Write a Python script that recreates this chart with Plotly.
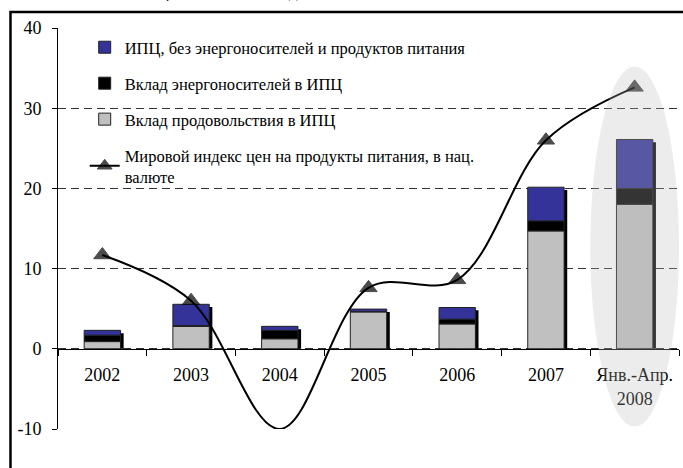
import numpy as np
import plotly.graph_objects as go

# categories (years) and stacked contributions to CPI, p.p.
years = ["2002", "2003", "2004", "2005", "2006", "2007", "Янв.-Апр.<br>2008"]
food = [0.9, 2.8, 1.25, 4.6, 3.1, 14.7, 18.0]
energy = [0.8, 0.1, 1.05, 0.05, 0.6, 1.25, 2.0]
other = [0.6, 2.65, 0.5, 0.3, 1.45, 4.2, 6.1]
world_food_index = [11.7, 6.0, -10.0, 7.6, 8.6, 26.0, 32.6]
yticks = [-10, 0, 10, 20, 30, 40]

food_a = np.array(food)
energy_a = np.array(energy)
other_a = np.array(other)
total = food_a + energy_a + other_a

FONT = "Liberation Serif"
BW = 0.41

fig = go.Figure()

# shadow behind each bar (black strip on the right)
fig.add_trace(go.Bar(
    x=years, y=total - 0.35, base=0, width=BW, offset=-BW / 2 + 0.035,
    marker=dict(color="black", line=dict(width=0)),
    showlegend=False, hoverinfo="skip"
))

fig.add_trace(go.Bar(
    x=years, y=food, base=0, width=BW, name="Вклад продовольствия в ИПЦ",
    marker=dict(color="#c0c0c0", line=dict(color="#222", width=1)),
    legendrank=3, legendgroup="c"
))
fig.add_trace(go.Bar(
    x=years, y=energy, base=food_a, width=BW, name="Вклад энергоносителей в ИПЦ",
    marker=dict(color="#000000", line=dict(color="#222", width=1)),
    legendrank=2, legendgroup="b"
))
fig.add_trace(go.Bar(
    x=years, y=other, base=food_a + energy_a, width=BW,
    name="ИПЦ, без энергоносителей и продуктов питания",
    marker=dict(color="#333399", line=dict(color="#222", width=1)),
    legendrank=1, legendgroup="a"
))

# world food price index, smoothed line
fig.add_trace(go.Scatter(
    x=years, y=world_food_index, mode="lines+markers",
    name="Мировой индекс цен на продукты питания, в нац.<br>валюте",
    line=dict(color="black", width=2, shape="spline", smoothing=1.0),
    marker=dict(symbol="triangle-up", size=[15, 15, 0, 15, 15, 15, 15], color="black",
                line=dict(color="black", width=1)),
    legendrank=4, legendgroup="d"
))

fig.update_layout(
    width=683, height=468,
    margin=dict(l=58, r=4, t=28, b=39),
    barmode="overlay",
    plot_bgcolor="white", paper_bgcolor="white",
    font=dict(family=FONT, size=17, color="black"),
    legend=dict(
        x=0.043, y=0.995, xanchor="left", yanchor="top",
        bgcolor="rgba(0,0,0,0)", font=dict(family=FONT, size=16.5),
        tracegroupgap=11.5, itemwidth=30
    ),
    xaxis=dict(
        type="category", anchor="free", position=0.2, automargin=False,
        showline=True, linecolor="black", linewidth=1,
        ticks="outside", tickson="boundaries", ticklen=6, tickcolor="black",
        ticklabelstandoff=10,
        showgrid=False, range=[-0.5, 6.5],
        tickfont=dict(family=FONT, size=18),
    ),
    yaxis=dict(
        range=[-10, 40], tickvals=yticks, ticktext=[str(v) for v in yticks],
        automargin=False,
        showline=True, linecolor="black", linewidth=1,
        ticks="outside", ticklen=5, tickcolor="black", ticklabelstandoff=7,
        showgrid=True, gridcolor="#333", griddash="8px,5px", gridwidth=1,
        zeroline=False, tickfont=dict(family=FONT, size=18),
    ),
    shapes=[
        # white area behind legend, hides gridlines
        dict(type="rect", xref="paper", yref="paper", x0=0.002, x1=0.755,
             y0=0.605, y1=0.99, fillcolor="white", line=dict(width=0), layer="between"),
        # highlight ellipse around the 2008 bar
        dict(type="circle", xref="x", yref="y", x0=5.5, x1=6.5, y0=-9.7, y1=35.2,
             fillcolor="rgba(185,185,185,0.28)", line=dict(width=0), layer="above"),
        # outer frame
        dict(type="rect", xref="paper", yref="paper", x0=-0.0765, x1=1.02,
             y0=-0.2, y1=1.04, line=dict(color="black", width=2.5),
             fillcolor="rgba(0,0,0,0)", layer="above"),
    ],
    annotations=[
        dict(text="<b>компонентов в ИПЦ, 2002 – 2008 годах</b>", xref="paper", yref="paper",
             x=-0.093, y=1.062, xanchor="left", yanchor="bottom", showarrow=False,
             font=dict(family=FONT, size=18)),
    ],
)

# page body has a default 8px margin; drop it so the figure sits at the window corner
fig.write_html("out.html", config={"displayModeBar": False},
               post_script="document.body.style.margin='0';")
